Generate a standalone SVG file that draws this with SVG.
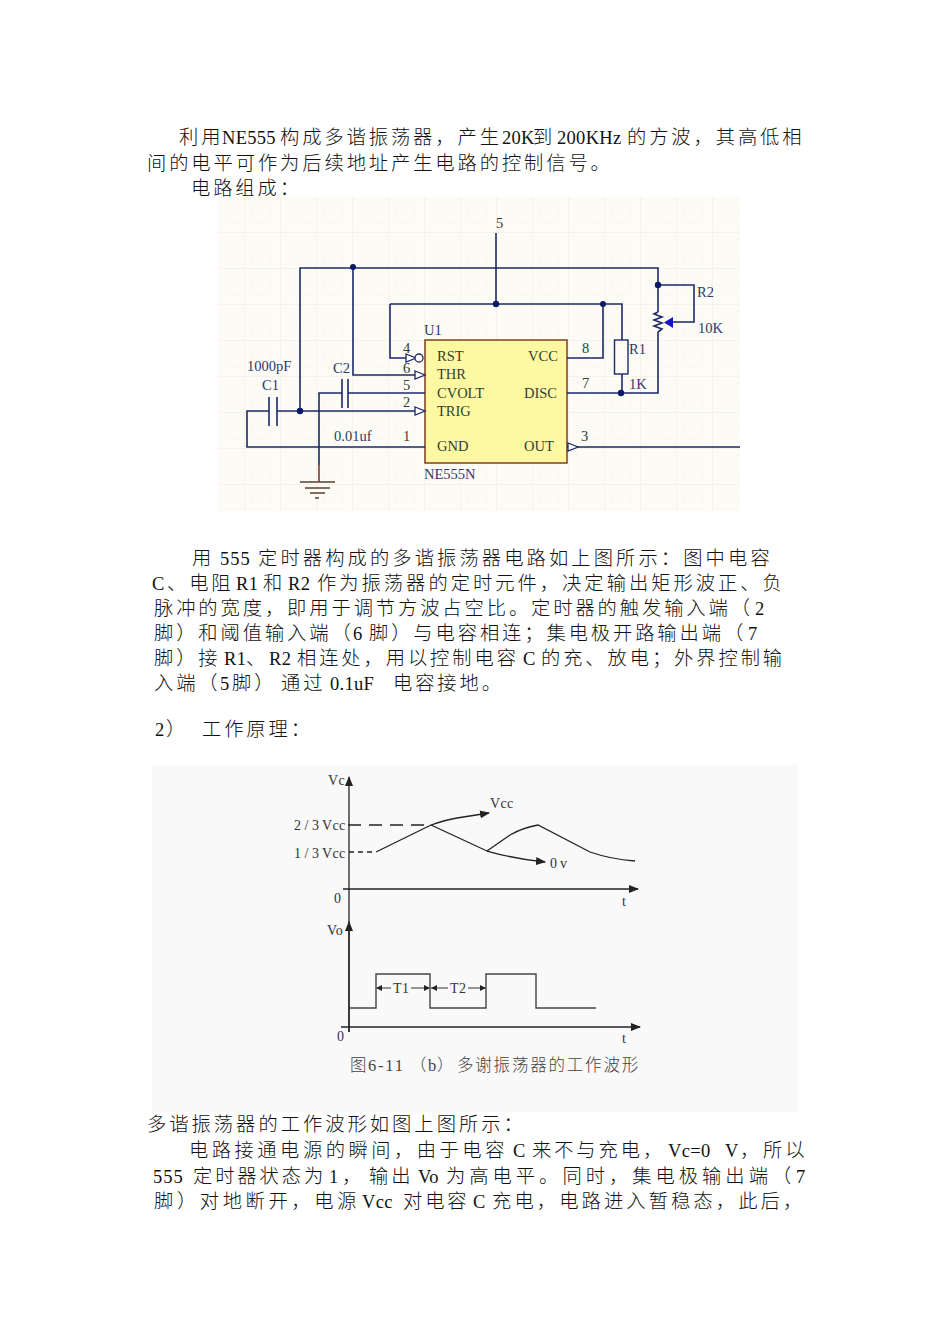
<svg xmlns="http://www.w3.org/2000/svg" width="950" height="1344" viewBox="0 0 950 1344">
<style>
.b{font-family:"Noto Sans CJK SC",sans-serif;font-size:19.3px;font-weight:300;letter-spacing:2.9px;fill:#111}
.l{font-family:"Liberation Serif",serif;font-size:18.5px;font-weight:400;letter-spacing:.3px}
.s{font-family:"Liberation Serif",serif;font-size:14.500px;fill:#33402f}
.n{fill:#2b3a6b}
.w{fill:none;stroke:#1c2a66;stroke-width:1.6}
.d{fill:#0c1a66}
.p{fill:#fff;stroke:#1c2a66;stroke-width:1.3}
.k{fill:none;stroke:#222;stroke-width:1.300}
.t{font-family:"Liberation Serif",serif;font-size:14px;letter-spacing:.4px;fill:#333}
.f{letter-spacing:3.500px}
.c{font-family:"Noto Sans CJK SC",sans-serif;font-size:16.500px;font-weight:300;letter-spacing:1.8px;fill:#444}
.cl{font-family:"Liberation Serif",serif;font-weight:400}
</style>
<defs>
<pattern id="g" x="208" y="196" width="36" height="36" patternUnits="userSpaceOnUse">
<path d="M0 0V36M0 0H36" fill="none" stroke="#efeadb" stroke-width="1"/>
<path d="M9 0V36M18 0V36M27 0V36M0 9H36M0 18H36M0 27H36" fill="none" stroke="#f8f4ea" stroke-width="1" stroke-dasharray="2 4"/>
</pattern>
<marker id="a" viewBox="0 0 10 8" refX="9" refY="4" markerWidth="10" markerHeight="8" markerUnits="userSpaceOnUse" orient="auto"><path d="M0 0L10 4L0 8Z" fill="#222"/></marker>
</defs>
<rect width="950" height="1344" fill="#fff"/>

<g id="text-top">
<text class="b" y="144"><tspan x="179">利用</tspan><tspan class="l" x="222">NE555</tspan><tspan x="280">构成多谐振荡器，产生</tspan><tspan class="l" x="502">20K</tspan><tspan x="533">到</tspan><tspan class="l" x="557">200KHz</tspan><tspan x="627">的方波，其高低相</tspan></text>
<text class="b" x="147" y="170">间的电平可作为后续地址产生电路的控制信号。</text>
<text class="b" x="191" y="195">电路组成：</text>
</g>

<g id="schematic-background">
<rect x="218" y="197" width="522" height="314" fill="#fdfbf5"/>
<rect x="218" y="197" width="522" height="314" fill="url(#g)"/>
</g>

<g id="U1">
<rect x="425" y="340" width="142" height="123" fill="#fdf9a3" stroke="#7d3f22" stroke-width="1.5"/>
<text class="s n" x="424" y="335">U1</text>
<text class="s" x="437" y="361">RST</text>
<text class="s" x="437" y="379">THR</text>
<text class="s" x="437" y="398">CVOLT</text>
<text class="s" x="437" y="416">TRIG</text>
<text class="s" x="437" y="451">GND</text>
<text class="s" x="528" y="361">VCC</text>
<text class="s" x="524" y="398">DISC</text>
<text class="s" x="524" y="451">OUT</text>
<text class="s n" x="424" y="479">NE555N</text>
</g>

<g id="connectors">
<path class="w" d="M300 411V268H658V312M658 332V393H567"/>
<path class="w" d="M353 268V375H425"/>
<path class="w" d="M390 304H622V340M390 304V358H406"/>
<path class="w" d="M496 233V304"/>
<path class="w" d="M603 304V358H567"/>
<path class="w" d="M622 374V393"/>
<path class="w" d="M658 285H694V322H672"/>
<path class="w" d="M277 411H425"/>
<path class="w" d="M269 411H247V447H425"/>
<path class="w" d="M348 393H425"/>
<path class="w" d="M342 393H319V465"/>
<path d="M319 465V482" fill="none" stroke="#7a3a30" stroke-width="1.6"/>
<path class="w" d="M567 447H740"/>
</g>

<g id="pins">
<path class="p" d="M406 354L416 358L406 362Z"/>
<circle class="p" cx="419" cy="358" r="4"/>
<path class="p" d="M415 371L425 375L415 379Z"/>
<path class="p" d="M415 407L425 411L415 415Z"/>
<path class="p" d="M568 443L578 447L568 451Z"/>
<text class="s" x="403" y="353">4</text>
<text class="s" x="403" y="373">6</text>
<text class="s" x="403" y="390">5</text>
<text class="s" x="403" y="407">2</text>
<text class="s" x="403" y="441">1</text>
<text class="s" x="582" y="353">8</text>
<text class="s" x="582" y="388">7</text>
<text class="s" x="581" y="441">3</text>
<text class="s" x="496" y="228">5</text>
</g>

<g id="junctions">
<circle class="d" cx="353" cy="267" r="3"/>
<circle class="d" cx="300" cy="411" r="3.200"/>
<circle class="d" cx="496" cy="304" r="3.200"/>
<circle class="d" cx="603" cy="304" r="3"/>
<circle class="d" cx="658" cy="285" r="3.200"/>
<circle class="d" cx="621" cy="393" r="3.200"/>
</g>

<g id="C1">
<path class="w" d="M269 397V426M277 397V426"/>
<text class="s n" x="247" y="371">1000pF</text>
<text class="s n" x="262" y="390">C1</text>
</g>
<g id="C2">
<path class="w" d="M342 379V408M348 379V408"/>
<text class="s n" x="333" y="373">C2</text>
<text class="s n" x="334" y="441">0.01uf</text>
</g>
<g id="R1">
<rect x="614.500" y="340" width="13.500" height="34" fill="#fdfbf5" stroke="#1c2a66" stroke-width="1.4"/>
<text class="s n" x="629" y="354">R1</text>
<text class="s n" x="629" y="389">1K</text>
</g>
<g id="R2">
<path class="w" d="M658 312L654 314L662 317L654 320L662 323L654 326L662 329L658 332"/>
<path d="M673 317V328L664 322.500Z" fill="#1414c8"/>
<text class="s n" x="697" y="297">R2</text>
<text class="s n" x="698" y="333">10K</text>
</g>
<g id="ground">
<path d="M300 482H335M305 488H330M310 493H325M315 498H319" fill="none" stroke="#5a4030" stroke-width="1.500"/>
</g>

<g id="text-middle">
<text class="b" y="565"><tspan x="192">用</tspan><tspan class="l" x="220" style="letter-spacing:1px">555</tspan><tspan x="258" style="letter-spacing:3.100px">定时器构成的多谐振荡器电路如上图所示：图中电容</tspan></text>
<text class="b" y="590"><tspan class="l" x="152">C</tspan><tspan x="167">、电阻</tspan><tspan class="l" x="236">R1</tspan><tspan x="263">和</tspan><tspan class="l" x="288">R2</tspan><tspan x="317" style="letter-spacing:3px">作为振荡器的定时元件，决定输出矩形波正、负</tspan></text>
<text class="b" y="615"><tspan x="154">脉冲的宽度，即用于调节方波占空比。定时器的触发输入端（</tspan><tspan class="l" x="755">2</tspan></text>
<text class="b" y="640"><tspan x="154">脚）和阈值输入端（</tspan><tspan class="l" x="353">6</tspan><tspan x="369">脚）与电容相连；集电极开路输出端（</tspan><tspan class="l" x="748">7</tspan></text>
<text class="b" y="665"><tspan x="154">脚）接</tspan><tspan class="l" x="224">R1</tspan><tspan x="246">、</tspan><tspan class="l" x="269">R2</tspan><tspan x="297">相连处，用以控制电容</tspan><tspan class="l" x="523">C</tspan><tspan x="541">的充、放电；外界控制输</tspan></text>
<text class="b" y="690"><tspan x="154">入端（</tspan><tspan class="l" x="220">5</tspan><tspan x="232">脚）</tspan><tspan x="281">通过</tspan><tspan class="l" x="330">0.1uF</tspan><tspan x="393">电容接地。</tspan></text>
<text class="b" y="736"><tspan class="l" x="155">2</tspan><tspan x="166">）</tspan><tspan x="202">工作原理：</tspan></text>
</g>

<g id="waveform-background"><rect x="152" y="765" width="646" height="347" fill="#f9f9f9"/></g>

<g id="vc-chart">
<path class="k" d="M349 1032V777" marker-end="url(#a)"/>
<path class="k" d="M343 889H638" marker-end="url(#a)"/>
<path class="k" d="M348 825H430" stroke-dasharray="13 8"/>
<path class="k" d="M349 852H376" stroke-dasharray="5 4"/>
<path class="k" d="M376 852L431 825Q445 820 457 818L489 813" marker-end="url(#a)"/>
<path class="k" d="M431 825L487 851Q515 859 545 862" marker-end="url(#a)"/>
<path class="k" d="M487 851L510 835Q522 828 538 825L590 852Q610 859 635 861"/>
<text class="t" x="328" y="785">Vc</text>
<text class="t" x="490" y="808">Vcc</text>
<text class="t" y="830"><tspan class="f" x="294">2/3</tspan><tspan x="322">Vcc</tspan></text>
<text class="t" y="858"><tspan class="f" x="294">1/3</tspan><tspan x="322">Vcc</tspan></text>
<text class="t" x="550" y="868" style="letter-spacing:3px">0v</text>
<text class="t" x="334" y="903">0</text>
<text class="t" x="622" y="906">t</text>
</g>

<g id="vo-chart">
<path class="k" d="M349 1032V922" marker-end="url(#a)"/>
<path class="k" d="M341 1027H640" marker-end="url(#a)"/>
<path d="M349 1008H376V974H430V1008H486V974H536V1008H596" fill="none" stroke="#444" stroke-width="1.400"/>
<path d="M377 988H391M411 988H429M431 988H448M468 988H485" fill="none" stroke="#333" stroke-width="1"/>
<path d="M376 988L382 985V991ZM430 988L424 985V991ZM431 988L437 985V991ZM486 988L480 985V991Z" fill="#222"/>
<text class="t" x="393" y="993">T1</text>
<text class="t" x="450" y="993">T2</text>
<text class="t" x="327" y="935">Vo</text>
<text class="t" x="337" y="1041">0</text>
<text class="t" x="622" y="1043">t</text>
<text class="c" y="1071"><tspan x="350">图</tspan><tspan class="cl" x="368">6-11</tspan><tspan x="410">（</tspan><tspan class="cl" x="428">b</tspan><tspan x="437">）</tspan><tspan x="457">多谢振荡器的工作波形</tspan></text>
</g>

<g id="text-bottom">
<text class="b" x="147" y="1131" style="letter-spacing:3px">多谐振荡器的工作波形如图上图所示：</text>
<text class="b" y="1157"><tspan x="189" style="letter-spacing:3.500px">电路接通电源的瞬间，由于电容</tspan><tspan class="l" x="513">C</tspan><tspan x="532">来不与充电，</tspan><tspan class="l" x="668">Vc=0</tspan><tspan class="l" x="725">V</tspan><tspan x="740">，</tspan><tspan x="763">所以</tspan></text>
<text class="b" y="1183"><tspan class="l" x="153" style="letter-spacing:1px">555</tspan><tspan x="193">定时器状态为</tspan><tspan class="l" x="329">1</tspan><tspan x="342">，</tspan><tspan x="369">输出</tspan><tspan class="l" x="418">Vo</tspan><tspan x="446" style="letter-spacing:4px">为高电平。同时，集电极输出端（</tspan><tspan class="l" x="796">7</tspan></text>
<text class="b" y="1208"><tspan x="154" style="letter-spacing:3.600px">脚）对地断开，电源</tspan><tspan class="l" x="362">Vcc</tspan><tspan x="403">对电容</tspan><tspan class="l" x="473">C</tspan><tspan x="492" style="letter-spacing:3.100px">充电，电路进入暂稳态，此后，</tspan></text>
</g>
</svg>
